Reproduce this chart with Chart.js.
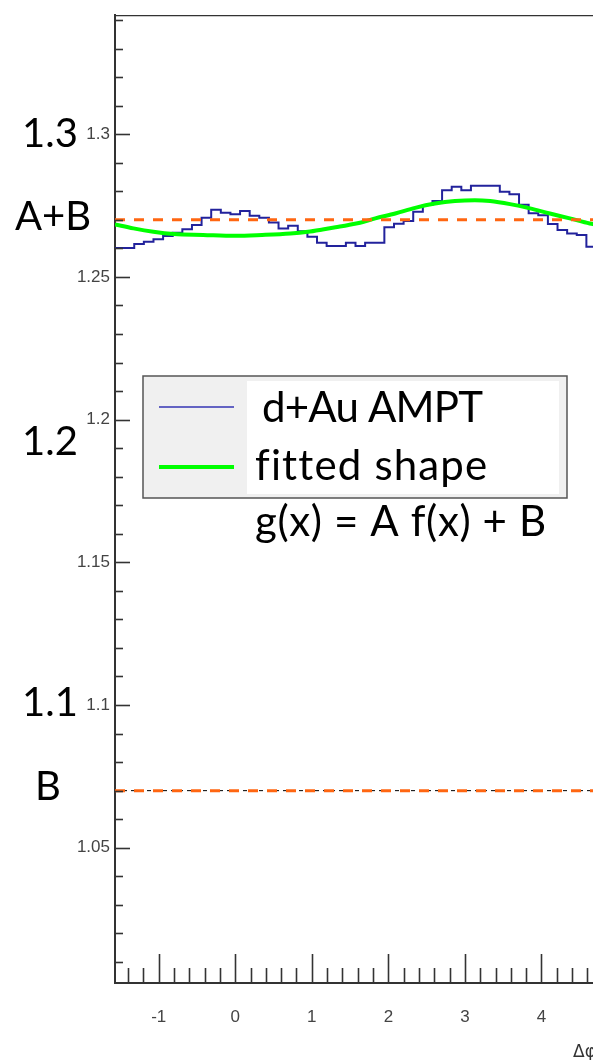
<!DOCTYPE html>
<html>
<head>
<meta charset="utf-8">
<script src="https://cdn.jsdelivr.net/npm/chart.js@4.4.1/dist/chart.umd.min.js"></script>
<style>
  html, body { margin: 0; padding: 0; background: #fff; overflow: hidden; }
  #wrap { position: relative; width: 593px; height: 1060px; overflow: hidden; }
  canvas { display: block; }
</style>
</head>
<body>
<div id="wrap"><canvas id="c" width="620" height="1060"></canvas></div>
<script>
// Δφ axis spans one period, from -π/2 to 3π/2
const xMin = -Math.PI / 2;
const xMax = 3 * Math.PI / 2;
const yMin = 1.0026;
const yMax = 1.3417;

const xTickValues = [-1, 0, 1, 2, 3, 4];
const xTickLabels = ['-1', '0', '1', '2', '3', '4'];
const yTickValues = [1.05, 1.1, 1.15, 1.2, 1.25, 1.3];
const yTickLabels = ['1.05', '1.1', '1.15', '1.2', '1.25', '1.3'];

// d+Au AMPT correlation, 50 bins over the Δφ range
const binCount = 50;
const histValues = [
  1.2601, 1.2601, 1.2615, 1.2623, 1.2632, 1.2643, 1.2655, 1.2667, 1.2682, 1.2707,
  1.2735, 1.2725, 1.2720, 1.2731, 1.2714, 1.2707, 1.2691, 1.2670, 1.2679, 1.2660,
  1.2641, 1.2620, 1.2608, 1.2608, 1.2620, 1.2608, 1.2620, 1.2620, 1.2674, 1.2686,
  1.2696, 1.2728, 1.2752, 1.2766, 1.2804, 1.2816, 1.2804, 1.2819, 1.2819, 1.2819,
  1.2798, 1.2790, 1.2753, 1.2723, 1.2716, 1.2685, 1.2664, 1.2652, 1.2647, 1.2606
];

// fitted shape g(x) = A f(x) + B, sampled along Δφ
const fitX = [-1.571, -1.33, -1.07, -0.80, -0.42, 0.00, 0.35, 0.72, 0.95, 1.14, 1.31,
              1.48, 1.63, 1.83, 2.09, 2.35, 2.61, 2.87, 3.13, 3.33, 3.59, 3.85,
              4.11, 4.37, 4.63, 4.712];
const fitY = [1.2684, 1.2670, 1.2658, 1.2650, 1.2647, 1.2644, 1.2647, 1.2652, 1.2658, 1.2666, 1.2674,
              1.2682, 1.2690, 1.2705, 1.2722, 1.2742, 1.2757, 1.2766, 1.2769, 1.2766, 1.2755, 1.2740,
              1.2722, 1.2705, 1.2687, 1.2683];

// reference levels
const levelAB = 1.27;
const levelB = 1.07;

const binWidth = (xMax - xMin) / binCount;
const histPoints = histValues.map((v, k) => ({ x: xMin + k * binWidth, y: v }));
histPoints.push({ x: xMax, y: histValues[histValues.length - 1] });
const fitPoints = fitX.map((x, i) => ({ x: x, y: fitY[i] }));
const flat = (v) => [{ x: xMin, y: v }, { x: xMax, y: v }];

const ORANGE = '#ff6611';

// draws a string so that it spans the given width
function spreadText(ctx, text, x, y, width) {
  ctx.letterSpacing = '0px';
  const w = ctx.measureText(text).width;
  const extra = (width - w) / Math.max(1, text.length - 1);
  ctx.letterSpacing = extra.toFixed(2) + 'px';
  ctx.fillText(text, x, y);
  ctx.letterSpacing = '0px';
}

const decorations = {
  id: 'decorations',
  afterDraw(chart) {
    const { ctx, chartArea: a, scales: { x, y } } = chart;
    ctx.save();

    // top and right frame
    ctx.strokeStyle = '#333';
    ctx.lineWidth = 1.2;
    ctx.beginPath();
    ctx.moveTo(a.left, a.top + 0.5);
    ctx.lineTo(a.right, a.top + 0.5);
    ctx.lineTo(a.right, a.bottom);
    ctx.stroke();

    // tick marks drawn inward from the axes
    ctx.lineWidth = 1.6;
    ctx.strokeStyle = '#333';
    for (let i = 0; i <= 34; i++) {
      const v = 1 + i * 0.01;
      if (v < yMin || v > yMax) continue;
      const py = Math.round(y.getPixelForValue(v)) + 0.5;
      const len = (i % 5 === 0) ? 15 : 8;
      ctx.beginPath();
      ctx.moveTo(a.left, py);
      ctx.lineTo(a.left + len, py);
      ctx.stroke();
    }
    for (let i = -7; i <= 23; i++) {
      const v = i * 0.2;
      if (v < xMin || v > xMax) continue;
      const px = Math.round(x.getPixelForValue(v)) + 0.5;
      const len = (i % 5 === 0) ? 29 : 15;
      ctx.beginPath();
      ctx.moveTo(px, a.bottom);
      ctx.lineTo(px, a.bottom - len);
      ctx.stroke();
    }

    // axis title
    ctx.fillStyle = '#333';
    ctx.font = '17px "DejaVu Sans"';
    ctx.textBaseline = 'alphabetic';
    ctx.textAlign = 'left';
    ctx.fillText('Δφ', 573, 1057);

    // large annotations on the left
    ctx.fillStyle = '#000';
    ctx.font = '40px Lato';
    ctx.fillText('1.3', 22, 147);
    ctx.fillText('A+B', 15, 230);
    ctx.fillText('1.2', 22, 455);
    ctx.fillText('1.1', 22, 716);
    ctx.fillText('B', 35, 800);

    // legend box
    ctx.fillStyle = '#f0f0f0';
    ctx.fillRect(143, 376, 424, 122);
    ctx.fillStyle = '#fff';
    ctx.fillRect(247, 381, 312, 113);
    ctx.strokeStyle = '#555';
    ctx.lineWidth = 1.5;
    ctx.strokeRect(143, 376, 424, 122);

    ctx.strokeStyle = '#3434b4';
    ctx.lineWidth = 1.5;
    ctx.beginPath();
    ctx.moveTo(159, 407);
    ctx.lineTo(234, 407);
    ctx.stroke();
    ctx.strokeStyle = '#00ff00';
    ctx.lineWidth = 4;
    ctx.beginPath();
    ctx.moveTo(159, 467);
    ctx.lineTo(234, 467);
    ctx.stroke();

    ctx.fillStyle = '#000';
    ctx.font = '42px Lato';
    spreadText(ctx, 'd+Au AMPT', 262, 422, 221);
    spreadText(ctx, 'fitted shape', 255, 480, 230);
    spreadText(ctx, 'g(x) = A f(x) + B', 255, 536, 291);

    ctx.restore();
  }
};

new Chart(document.getElementById('c'), {
  type: 'line',
  data: {
    datasets: [
      { data: flat(levelAB), borderColor: ORANGE, borderWidth: 3, borderDash: [10, 9], pointRadius: 0 },
      { data: flat(levelB), borderColor: ORANGE, borderWidth: 3, borderDash: [10, 9], pointRadius: 0 },
      { data: flat(levelB), borderColor: '#000', borderWidth: 1, borderDash: [4, 4], pointRadius: 0 },
      { data: fitPoints, borderColor: '#00ff00', borderWidth: 4, pointRadius: 0, cubicInterpolationMode: 'monotone' },
      { data: histPoints, borderColor: '#22229c', borderWidth: 2, pointRadius: 0, stepped: 'before' }
    ]
  },
  options: {
    responsive: false,
    animation: false,
    devicePixelRatio: 1,
    layout: { padding: { left: 0, top: 13, right: 24, bottom: 0 } },
    plugins: { legend: { display: false }, tooltip: { enabled: false } },
    events: [],
    scales: {
      x: {
        type: 'linear', position: 'bottom', min: xMin, max: xMax,
        afterBuildTicks: (s) => { s.ticks = xTickValues.map(v => ({ value: v })); },
        afterFit: (s) => { s.height = 77; },
        ticks: {
          callback: (v, i) => xTickLabels[i],
          font: { family: '"Liberation Sans"', size: 17 },
          color: '#444', padding: 24, maxRotation: 0, autoSkip: false
        },
        grid: { display: false, drawTicks: false },
        border: { display: true, color: '#333', width: 2 }
      },
      y: {
        type: 'linear', position: 'left', min: yMin, max: yMax,
        afterBuildTicks: (s) => { s.ticks = yTickValues.map(v => ({ value: v })); },
        afterFit: (s) => { s.width = 115; },
        ticks: {
          callback: (v, i) => yTickLabels[i],
          font: { family: '"Liberation Sans"', size: 17 },
          color: '#444', padding: 5, autoSkip: false
        },
        grid: { display: false, drawTicks: false },
        border: { display: true, color: '#333', width: 2 }
      }
    }
  },
  plugins: [decorations]
});
</script>
</body>
</html>
